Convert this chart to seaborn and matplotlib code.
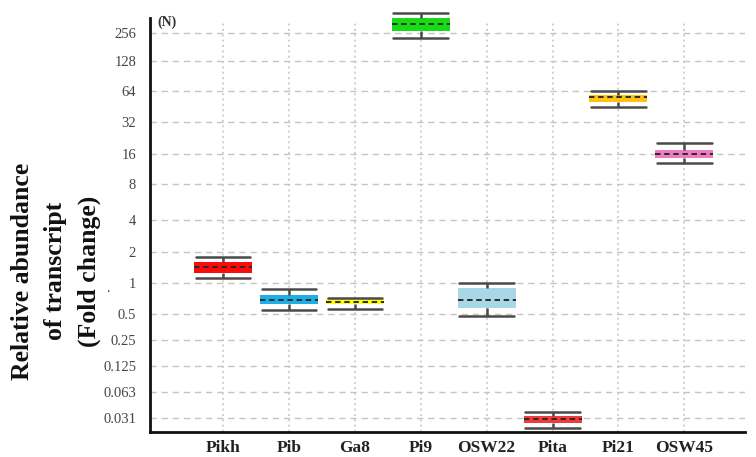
import numpy as np
import pandas as pd
import matplotlib
matplotlib.use("Agg")
import matplotlib.pyplot as plt
import seaborn as sns

# Genes and their summary statistics (fold change):
# lower whisker, lower quartile, median, upper quartile, upper whisker
genes = ["Pikh", "Pib", "Ga8", "Pi9", "OSW22", "Pita", "Pi21", "OSW45"]
whisker_low = [1.12, 0.55, 0.56, 226, 0.475, 0.0237, 44.7, 13.0]
quartile_low = [1.25, 0.62, 0.62, 269, 0.574, 0.0272, 50.0, 14.6]
medians = [1.43, 0.69, 0.65, 320, 0.69, 0.0304, 56.0, 16.0]
quartile_high = [1.60, 0.76, 0.71, 371, 0.89, 0.0331, 58.6, 17.5]
whisker_high = [1.79, 0.87, 0.72, 420, 1.00, 0.0369, 64.0, 20.4]

box_colors = ["#ff0a0a", "#1eaee6", "#ffff14", "#16dc16",
              "#a8d8e8", "#f23a3a", "#ffc20e", "#ee7cc2"]

tick_exponents = list(range(-5, 9))
tick_labels = ["0.031", "0.063", "0.125", "0.25", "0.5", "1", "2", "4",
               "8", "16", "32", "64", "128", "256"]
# spacing of the log2 axis, one entry per tick (pixels from the top)
tick_pixels = [418, 392, 366, 340, 314, 283, 252, 220, 184, 154, 122, 91, 61, 33]

rows = []
for g, a, b, c, d, e in zip(genes, whisker_low, quartile_low, medians,
                            quartile_high, whisker_high):
    for v in (a, b, c, d, e):
        rows.append({"gene": g, "fold": v})
df = pd.DataFrame(rows)

sns.set_style("white")
plt.rcParams["font.family"] = ["Liberation Serif", "DejaVu Serif"]

W, H = 756, 457
fig = plt.figure(figsize=(W / 100, H / 100), dpi=100)
ax_left, ax_right, ax_bottom, ax_top = 150, 745, 432, 5
ax = fig.add_axes([ax_left / W, 1 - ax_bottom / H,
                   (ax_right - ax_left) / W, (ax_bottom - ax_top) / H])

box_width = 0.88
sns.boxplot(
    data=df, x="gene", y="fold", hue="gene", palette=box_colors,
    legend=False, order=genes, hue_order=genes, log_scale=2,
    whis=(0, 100), width=box_width, saturation=1,
    linecolor="#4a4a4a", linewidth=1.8,
    boxprops={"edgecolor": "none"},
    medianprops={"color": "#2a2a2a", "linestyle": (0, (2.8, 1.9)),
                 "linewidth": 1.4},
    showfliers=False, ax=ax, zorder=3,
)

# Caps as wide as the boxes
for ln in ax.lines:
    x = np.asarray(ln.get_xdata(), dtype=float)
    y = np.asarray(ln.get_ydata(), dtype=float)
    if len(x) == 2 and y[0] == y[1] and ln.get_linestyle() == "-":
        c = x.mean()
        hw = box_width * 0.47
        ln.set_xdata([c - hw, c + hw])

# Piecewise log2 scale following the tick spacing
kk = np.array(tick_exponents, dtype=float)
pp = -np.array(tick_pixels, dtype=float)


def _fwd(v):
    v = np.asarray(v, dtype=float)
    with np.errstate(divide="ignore", invalid="ignore"):
        k = np.log2(np.where(v > 0, v, 1e-300))
    out = np.interp(k, kk, pp)
    lo_slope = (pp[1] - pp[0]) / (kk[1] - kk[0])
    hi_slope = (pp[-1] - pp[-2]) / (kk[-1] - kk[-2])
    out = np.where(k < kk[0], pp[0] + (k - kk[0]) * lo_slope, out)
    out = np.where(k > kk[-1], pp[-1] + (k - kk[-1]) * hi_slope, out)
    return out


def _inv(p):
    p = np.asarray(p, dtype=float)
    k = np.interp(p, pp, kk)
    lo_slope = (kk[1] - kk[0]) / (pp[1] - pp[0])
    hi_slope = (kk[-1] - kk[-2]) / (pp[-1] - pp[-2])
    k = np.where(p < pp[0], kk[0] + (p - pp[0]) * lo_slope, k)
    k = np.where(p > pp[-1], kk[-1] + (p - pp[-1]) * hi_slope, k)
    return 2.0 ** k


ax.set_yscale("function", functions=(_fwd, _inv))
ax.set_ylim(_inv(-ax_bottom), _inv(-ax_top))
ax.set_xlim(-1.108, 7.92)

tick_values = [2.0 ** k for k in tick_exponents]
ax.set_yticks(tick_values)
ax.set_yticklabels(tick_labels)
ax.yaxis.set_minor_locator(matplotlib.ticker.NullLocator())
ax.tick_params(axis="y", length=0, pad=10, labelsize=10.5, labelcolor="#454545")
ax.tick_params(axis="x", length=0, pad=6, labelsize=12.5)
for t in ax.get_xticklabels():
    t.set_fontweight("bold")
    t.set_color("#222222")
ax.set_xlabel("")
ax.set_ylabel("")

# Grid
for v in tick_values:
    ax.axhline(v, color="#c4c4c4", lw=1.0, ls=(0, (4.5, 3.5)), zorder=0)
grid_top = (ax_bottom - 23) / (ax_bottom - ax_top)
for i in range(len(genes)):
    ax.axvline(i, ymin=0, ymax=grid_top, color="#c4c4c4", lw=1.1,
               ls=(0, (1.3, 2.2)), zorder=0)

# Spines
for s in ("top", "right"):
    ax.spines[s].set_visible(False)
for s in ("left", "bottom"):
    ax.spines[s].set_color("#111111")
    ax.spines[s].set_linewidth(2.0)
ax.spines["left"].set_bounds(_inv(-ax_bottom), _inv(-18.0))

fig.text(157 / W, 1 - 22 / H, "(N)", fontsize=10, fontweight="bold",
         color="#333333", ha="left", va="center")

fig.text(56 / W, 1 - 271 / H,
         "Relative abundance\nof transcript\n(Fold change)",
         rotation=90, fontsize=18.5, fontweight="bold", ha="center",
         va="center", multialignment="center", linespacing=1.55,
         color="#111111")
fig.text(108 / W, 1 - 288 / H, ".", fontsize=10, color="#333333",
         ha="center", va="center")

fig.savefig("out.png", dpi=100)
